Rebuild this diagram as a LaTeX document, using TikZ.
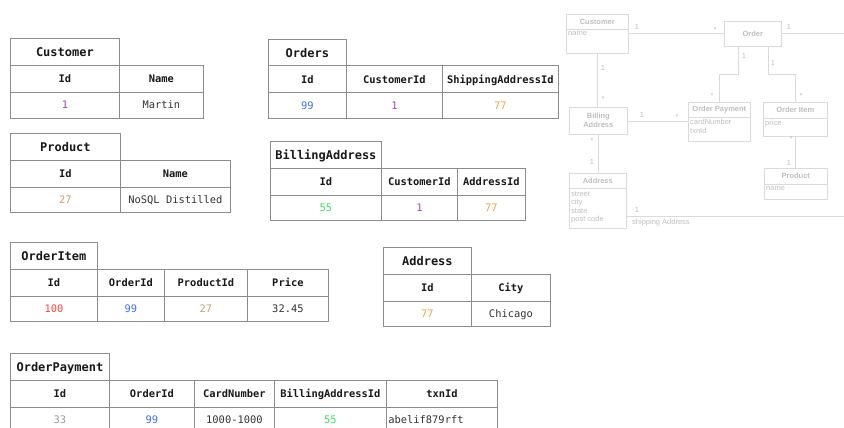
\documentclass[tikz,border=0pt]{standalone}
\usepackage{fontspec}
\setmonofont{DejaVu Sans Mono}
\newfontfamily\umlfont{Liberation Sans}

\definecolor{idpurple}{HTML}{A443B8}
\definecolor{idblue}{HTML}{3D6FF2}
\definecolor{idorange}{HTML}{F2A541}
\definecolor{idtan}{HTML}{C9A27C}
\definecolor{idgreen}{HTML}{3BE05A}
\definecolor{idred}{HTML}{F24B3D}
\definecolor{idgray}{HTML}{9A9A9A}
\definecolor{txtgray}{HTML}{333333}
\definecolor{umlgray}{HTML}{DADADA}
\definecolor{umltext}{HTML}{BFBFBF}

\begin{document}
\begin{tikzpicture}[x=1pt, y=-1pt,
  cell/.style={draw=black!45, line width=0.8pt, anchor=north west, inner xsep=2pt, text=black!90},
  tabtitle/.style={cell, minimum height=26.5pt, text height=9.6pt, text depth=0.8pt,
    font=\ttfamily\bfseries\fontsize{12}{14}\selectfont},
  head/.style={cell, minimum height=27pt, text height=8.4pt, text depth=0.8pt,
    font=\ttfamily\bfseries\fontsize{10.4}{12}\selectfont},
  data/.style={cell, minimum height=25.5pt, text height=8.4pt, text depth=0.8pt,
    font=\ttfamily\fontsize{10.4}{12}\selectfont},
  umlbox/.style={draw=umlgray, line width=0.6pt, anchor=north west, text=umltext, align=center,
    font=\umlfont\bfseries\fontsize{7.5}{9}\selectfont},
  umlline/.style={draw=umlgray, line width=0.6pt},
  umlname/.style={text=umltext, font=\umlfont\bfseries\fontsize{7.5}{9}\selectfont},
  umlattr/.style={text=umltext, font=\umlfont\fontsize{7.5}{8.5}\selectfont, anchor=north west,
    align=left, inner sep=1pt},
  mult/.style={text=umltext, font=\umlfont\fontsize{7.5}{8}\selectfont, inner sep=0pt}]

   \fill[white] (0,0) rectangle (844,428);
   \useasboundingbox (0,0) rectangle (844,428);

   % Customer
   \node[tabtitle, minimum width=109pt] (custT) at (10,38.5) {Customer};
   \foreach \x/\w/\h/\d/\c [count=\i] in {10/109/Id/1/idpurple, 119/84/Name/Martin/txtgray} {
     \node[head, minimum width=\w pt] (custH\i) at (\x,65) {\h};
     \node[data, minimum width=\w pt, text=\c] (custD\i) at (\x,92) {\d};
   }

   % Orders
   \node[tabtitle, minimum width=78pt] (ordT) at (268,39) {Orders};
   \foreach \x/\w/\h/\d/\c [count=\i] in {268/78/Id/99/idblue, 346/96/CustomerId/1/idpurple,
       442/116/ShippingAddressId/77/idorange} {
     \node[head, minimum width=\w pt] (ordH\i) at (\x,65.5) {\h};
     \node[data, minimum width=\w pt, text=\c] (ordD\i) at (\x,92.5) {\d};
   }

   % Product
   \node[tabtitle, minimum width=110pt] (prodT) at (10,133) {Product};
   \foreach \x/\w/\h/\d/\c [count=\i] in {10/110/Id/27/idtan, 120/110/Name/NoSQL Distilled/txtgray} {
     \node[head, minimum width=\w pt] (prodH\i) at (\x,159.5) {\h};
     \node[data, minimum width=\w pt, text=\c] (prodD\i) at (\x,186.5) {\d};
   }

   % BillingAddress
   \node[tabtitle, minimum width=111pt] (billT) at (270,141) {BillingAddress};
   \foreach \x/\w/\h/\d/\c [count=\i] in {270/111/Id/55/idgreen, 381/76/CustomerId/1/idpurple,
       457/68/AddressId/77/idorange} {
     \node[head, minimum width=\w pt] (billH\i) at (\x,167.5) {\h};
     \node[data, minimum width=\w pt, text=\c] (billD\i) at (\x,194.5) {\d};
   }

   % OrderItem
   \node[tabtitle, minimum width=87pt] (itemT) at (10,242) {OrderItem};
   \foreach \x/\w/\h/\d/\c [count=\i] in {10/87/Id/100/idred, 97/67/OrderId/99/idblue,
       164/83/ProductId/27/idtan, 247/81/Price/32.45/txtgray} {
     \node[head, minimum width=\w pt] (itemH\i) at (\x,268.5) {\h};
     \node[data, minimum width=\w pt, text=\c] (itemD\i) at (\x,295.5) {\d};
   }

   % Address
   \node[tabtitle, minimum width=88pt] (addrT) at (383,247) {Address};
   \foreach \x/\w/\h/\d/\c [count=\i] in {383/88/Id/77/idorange, 471/79/City/Chicago/txtgray} {
     \node[head, minimum width=\w pt] (addrH\i) at (\x,273.5) {\h};
     \node[data, minimum width=\w pt, text=\c] (addrD\i) at (\x,300.5) {\d};
   }

   % OrderPayment
   \node[tabtitle, minimum width=99pt] (payT) at (10,353) {OrderPayment};
   \foreach \x/\w/\h/\d/\c [count=\i] in {10/99/Id/33/idgray, 109/85/OrderId/99/idblue,
       194/80/CardNumber/1000-1000/txtgray, 274/112/BillingAddressId/55/idgreen} {
     \node[head, minimum width=\w pt] (payH\i) at (\x,379.5) {\h};
     \node[data, minimum width=\w pt, text=\c] (payD\i) at (\x,406.5) {\d};
   }
   \node[head, minimum width=111pt] (payH5) at (386,379.5) {txnId};
   \node[data, text width=107pt, align=left, text=txtgray] (payD5) at (386,406.5) {abelif879rft};

   % class diagram
   \node[umlbox, minimum width=62pt, minimum height=39pt] (uCust) at (566,14) {};
   \draw[umlline] ([yshift=-15pt]uCust.north west) -- ([yshift=-15pt]uCust.north east);
   \node[umlname] (uCustN) at ([yshift=-8pt]uCust.north) {Customer};
   \node[umlattr] (uCustA) at ([xshift=1pt, yshift=-16pt]uCust.north west) {name};

   \node[umlbox, minimum width=57pt, minimum height=25pt] (uOrder) at (724,21) {Order};

   \node[umlbox, minimum width=58pt, minimum height=27pt] (uBill) at (569,107) {Billing\\Address};

   \node[umlbox, minimum width=62pt, minimum height=39pt] (uPay) at (688,102) {};
   \draw[umlline] ([yshift=-15pt]uPay.north west) -- ([yshift=-15pt]uPay.north east);
   \node[umlname] (uPayN) at ([yshift=-8pt]uPay.north) {Order Payment};
   \node[umlattr] (uPayA) at ([xshift=1pt, yshift=-16pt]uPay.north west) {cardNumber\\txnId};

   \node[umlbox, minimum width=64pt, minimum height=34pt] (uItem) at (763,102) {};
   \draw[umlline] ([yshift=-16pt]uItem.north west) -- ([yshift=-16pt]uItem.north east);
   \node[umlname] (uItemN) at ([yshift=-8pt]uItem.north) {Order Item};
   \node[umlattr] (uItemA) at ([xshift=1pt, yshift=-17pt]uItem.north west) {price};

   \node[umlbox, minimum width=63pt, minimum height=31pt] (uProd) at (764,168) {};
   \draw[umlline] ([yshift=-16pt]uProd.north west) -- ([yshift=-16pt]uProd.north east);
   \node[umlname] (uProdN) at ([yshift=-8pt]uProd.north) {Product};
   \node[umlattr] (uProdA) at ([xshift=1pt, yshift=-17pt]uProd.north west) {name};

   \node[umlbox, minimum width=57pt, minimum height=55pt] (uAddr) at (569,173) {};
   \draw[umlline] ([yshift=-15pt]uAddr.north west) -- ([yshift=-15pt]uAddr.north east);
   \node[umlname] (uAddrN) at ([yshift=-7.5pt]uAddr.north) {Address};
   \node[umlattr] (uAddrA) at ([xshift=1pt, yshift=-17pt]uAddr.north west) {street\\city\\state\\post code};

   \coordinate (uOrderEnd) at (844,33);
   \coordinate (uShipEnd) at (844,216);

   \draw[umlline] (uCust.east) -- (uCust.east -| uOrder.west);
   \draw[umlline] (uOrder.east) -- (uOrder.east -| uOrderEnd);
   \draw[umlline] ([xshift=-14.5pt]uOrder.south) -- ++(0,28) -| (uPay.north);
   \draw[umlline] ([xshift=15.5pt]uOrder.south) -- ++(0,28) -| (uItem.north);
   \draw[umlline] (uCust.south) -- (uCust.south |- uBill.north);
   \draw[umlline] (uBill.east) -- (uBill.east -| uPay.west);
   \draw[umlline] (uItem.south) -- (uItem.south |- uProd.north);
   \draw[umlline] (uBill.south) -- (uBill.south |- uAddr.north);
   \draw[umlline] (uAddr.east |- uShipEnd) -- (uShipEnd);

   \node[mult] (m1) at (637,27) {1};
   \node[mult] (m2) at (715,30) {*};
   \node[mult] (m3) at (789,27) {1};
   \node[mult] (m4) at (744,56) {1};
   \node[mult] (m5) at (773,63) {1};
   \node[mult] (m6) at (712,96) {*};
   \node[mult] (m7) at (801,96) {*};
   \node[mult] (m8) at (603,68) {1};
   \node[mult] (m9) at (603,99) {*};
   \node[mult] (m10) at (642,115) {1};
   \node[mult] (m11) at (677,117) {*};
   \node[mult] (m12) at (791,139) {*};
   \node[mult] (m13) at (789,163) {1};
   \node[mult] (m14) at (592,141) {*};
   \node[mult] (m15) at (592,162) {1};
   \node[mult] (m16) at (637,210) {1};
   \node[mult, anchor=west] (shipL) at (632,223) {shipping Address};

\end{tikzpicture}
\end{document}
